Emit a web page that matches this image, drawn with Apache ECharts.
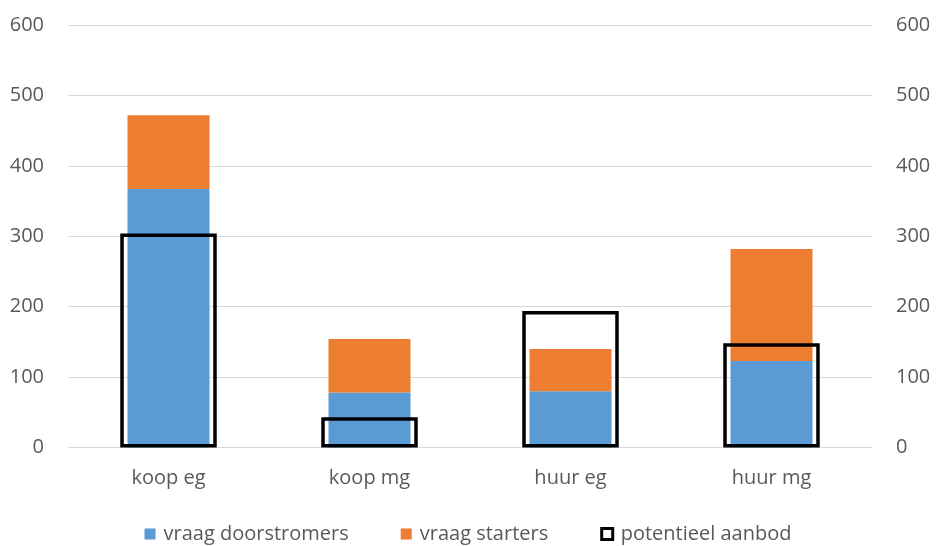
<!DOCTYPE html>
<html>
<head>
<meta charset="utf-8">
<script src="https://cdn.jsdelivr.net/npm/echarts@6/dist/echarts.min.js"></script>
<style>
  html, body { margin: 0; padding: 0; background: #fff; }
  #chart { width: 936px; height: 546px; }
</style>
</head>
<body>
<div id="chart"></div>
<script>
// Woningtypen
const categories = ['koop eg', 'koop mg', 'huur eg', 'huur mg'];
// Vraag, gestapeld
const vraagDoorstromers = [367, 78, 80, 123];
const vraagStarters = [105, 76, 60, 159];
// Potentieel aanbod (rechter as)
const potentieelAanbod = [304, 43, 194, 148];
// As-schaal
const axisMin = 0;
const axisMax = 600;
const axisStep = 100;

const textColor = '#595959';
const fontFamily = '"Open Sans", "Liberation Sans", sans-serif';

const valueAxis = (position) => ({
  type: 'value',
  position: position,
  min: axisMin,
  max: axisMax,
  interval: axisStep,
  axisLine: { show: false },
  axisTick: { show: false },
  axisLabel: { color: textColor, fontSize: 20, fontFamily: fontFamily, margin: 24 },
  splitLine: { show: position === 'left', lineStyle: { color: '#D9D9D9', width: 1 } }
});

const chart = echarts.init(document.getElementById('chart'), null, { renderer: 'canvas' });
chart.setOption({
  backgroundColor: '#ffffff',
  animation: false,
  grid: { left: 68, right: 64, top: 25, bottom: 98.5, containLabel: false },
  legend: {
    top: 519,
    left: 'center',
    itemWidth: 11,
    itemHeight: 11,
    itemGap: 52,
    textStyle: { color: textColor, fontSize: 20, fontFamily: fontFamily, padding: [0, 0, 0, 3] },
    data: [
      { name: 'vraag doorstromers', icon: 'rect' },
      { name: 'vraag starters', icon: 'rect' },
      { name: 'potentieel aanbod', icon: 'rect', itemStyle: { color: '#ffffff', borderColor: '#000000', borderWidth: 3 } }
    ]
  },
  xAxis: [
    {
      type: 'category',
      data: categories,
      axisLine: { show: false },
      axisTick: { show: false },
      axisLabel: { color: textColor, fontSize: 20, fontFamily: fontFamily, margin: 21 }
    },
    {
      type: 'category',
      data: categories,
      show: false
    }
  ],
  yAxis: [valueAxis('left'), valueAxis('right')],
  series: [
    {
      name: 'vraag doorstromers',
      type: 'bar',
      stack: 'vraag',
      xAxisIndex: 0,
      yAxisIndex: 0,
      barWidth: '40.8%',
      itemStyle: { color: '#5B9BD5' },
      data: vraagDoorstromers
    },
    {
      name: 'vraag starters',
      type: 'bar',
      stack: 'vraag',
      xAxisIndex: 0,
      yAxisIndex: 0,
      barWidth: '40.8%',
      itemStyle: { color: '#ED7D31' },
      data: vraagStarters
    },
    {
      name: 'potentieel aanbod',
      type: 'bar',
      xAxisIndex: 1,
      yAxisIndex: 1,
      barWidth: '48%',
      z: 5,
      itemStyle: { color: 'rgba(0,0,0,0)', borderColor: '#000000', borderWidth: 3.5 },
      data: potentieelAanbod
    }
  ]
});
</script>
</body>
</html>
